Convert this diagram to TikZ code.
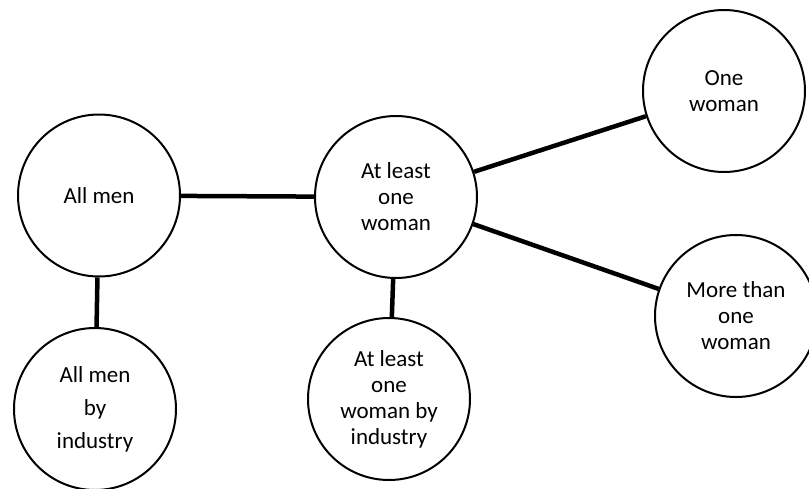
\documentclass[tikz,border=0pt]{standalone}
\usepackage{fontspec}
\setmainfont{Carlito}
\begin{document}
\begin{tikzpicture}[x=1pt,y=-1pt,
  bubble/.style={draw=black,line width=2pt,circle,minimum size=162pt,inner sep=0pt,align=center,
    font=\fontsize{23pt}{26pt}\selectfont},
  link/.style={draw=black,line width=4.5pt}]
\useasboundingbox (0,0) rectangle (809,488);
\clip (0,0) rectangle (809,488);
\node[bubble] (am) at (99,195.5) {All men};
\node[bubble,font=\fontsize{23pt}{33pt}\selectfont] (ami) at (95,409) {All men\\by\\industry};
\node[bubble] (alw) at (396,197) {At least\\one\\woman};
\node[bubble] (alwi) at (389,399) {At least\\one\\woman by\\industry};
\node[bubble] (one) at (724,91) {One\\woman};
\node[bubble] (more) at (736,316) {More than\\one\\woman};
\draw[link] (am) -- (alw);
\draw[link] (am) -- (ami);
\draw[link] (alw) -- (alwi);
\draw[link] (alw) -- (one);
\draw[link] (alw) -- (more);
\end{tikzpicture}
\end{document}
